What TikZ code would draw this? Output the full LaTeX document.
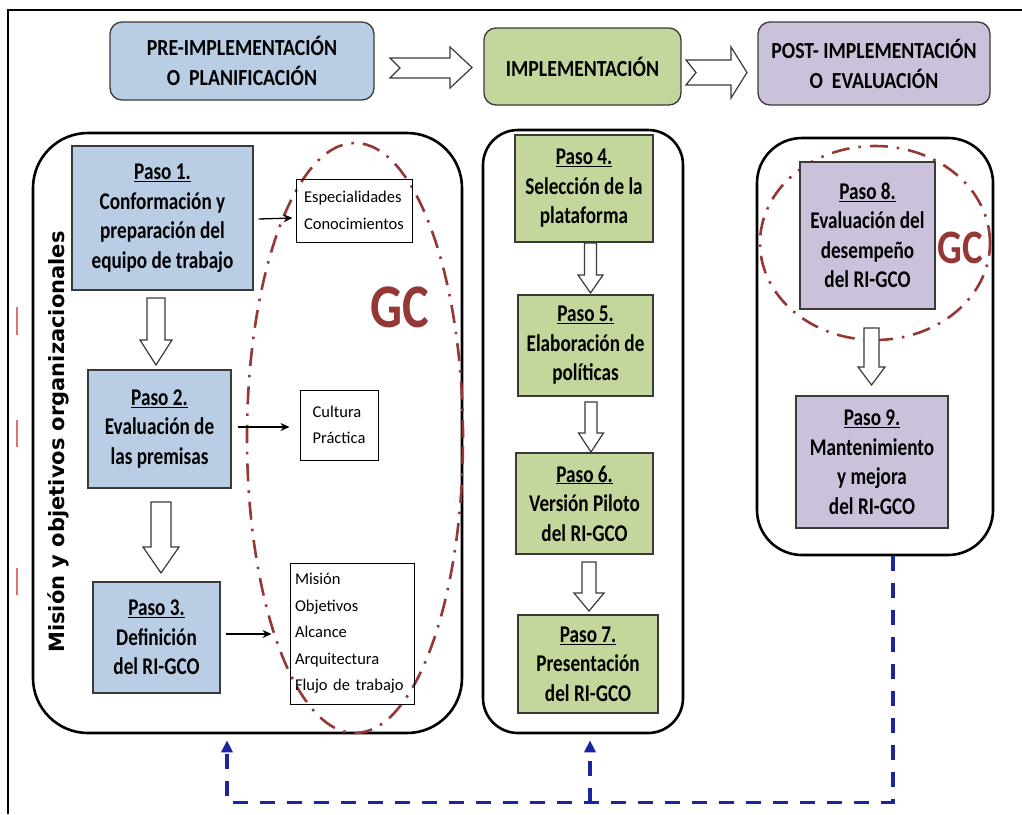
\documentclass[tikz,border=0pt]{standalone}
\usepackage{fontspec}
\setmainfont{Carlito}
\newfontfamily\vertfont{DejaVu Sans}
\newfontfamily\stepf{Carlito}[FakeStretch=0.8]
\newfontfamily\headf{Carlito}[FakeStretch=0.86]
\newfontfamily\gcf{Carlito}[FakeStretch=0.81]
\usetikzlibrary{arrows.meta,calc,shapes.geometric}
\definecolor{bluef}{HTML}{B9CDE5}
\definecolor{greenf}{HTML}{C3D69B}
\definecolor{purf}{HTML}{CCC1DA}
\definecolor{gcred}{HTML}{953735}
\definecolor{dblue}{RGB}{30,35,160}
\definecolor{edge}{HTML}{3A3A3A}
\definecolor{tickred}{HTML}{E07070}
\newcommand{\blkdn}[6]{% x, ytop, yhead, ybot, shaft half, head half
  \draw[blockarrow] ({#1-#5},#2) -- ({#1+#5},#2) -- ({#1+#5},#3) -- ({#1+#6},#3)
    -- (#1,#4) -- ({#1-#6},#3) -- ({#1-#5},#3) -- cycle;}
\begin{document}
\begin{tikzpicture}[x=1pt,y=-1pt,
  header/.style={draw=edge, line width=1.3pt, rounded corners=12pt, align=center,
    font=\headf\fontsize{23}{30}\selectfont\bfseries, inner sep=0pt},
  container/.style={draw=black, line width=2.6pt, inner sep=0pt},
  stepbox/.style={draw=edge, line width=1.3pt, align=center, inner sep=0pt,
    font=\stepf\fontsize{24}{29.5}\selectfont\bfseries},
  notebox/.style={draw=black, line width=1pt, align=left, inner sep=0pt,
    font=\fontsize{16.5}{26.5}\selectfont},
  blockarrow/.style={draw=edge, fill=white, line width=1.2pt, line join=miter},
  thinarrow/.style={draw=black, line width=1.3pt, -{Stealth[length=9pt,width=8pt]}},
  gcring/.style={draw=gcred, line width=2.6pt, dash pattern=on 18pt off 9pt on 2.5pt off 9pt,
    ellipse, inner sep=0pt},
  feedback/.style={draw=dblue, line width=3.5pt, dash pattern=on 15pt off 12pt,
    -{Triangle[length=12pt,width=11pt]}},
  gclabel/.style={text=gcred, inner sep=0pt},
]
\useasboundingbox (0,0) rectangle (1022,814);
\fill[white] (0,0) rectangle (1022,814);
% outer frame
\draw[line width=1.5pt] (8,814) -- (8,10) -- (1022,10);
% red ticks
\draw[tickred, line width=1.5pt] (17,307) -- (17,335);
\draw[tickred, line width=1.5pt] (17,420) -- (17,447);
\draw[tickred, line width=1.5pt] (17,568) -- (17,595);

% headers
\node[header, fill=bluef, minimum width=264pt, minimum height=78pt] (pre) at (242,61)
  {PRE-IMPLEMENTACIÓN\\O~~PLANIFICACIÓN};
\node[header, fill=greenf, minimum width=197pt, minimum height=77pt] (imp) at (582.5,66.5)
  {IMPLEMENTACIÓN};
\node[header, fill=purf, minimum width=232pt, minimum height=83pt] (post) at (874,63.5)
  {POST-~IMPLEMENTACIÓN\\O~~EVALUACIÓN};
% notched arrows between headers
\draw[blockarrow] (390,58) -- (450,58) -- (450,47) -- (472,67.5) -- (450,88) -- (450,78)
  -- (390,78) -- (400,68) -- cycle;
\draw[blockarrow] (686,60) -- (731,60) -- (731,47) -- (747,72.5) -- (731,98) -- (731,85)
  -- (686,85) -- (696,72.5) -- cycle;

% containers
\node[container, rounded corners=55pt, minimum width=429pt, minimum height=600pt] (lb) at (247.5,433) {};
\node[container, rounded corners=35pt, minimum width=200pt, minimum height=603pt] (mb) at (583,431.5) {};
\node[container, rounded corners=45pt, minimum width=236pt, minimum height=417pt] (rb) at (875,346.5) {};

% vertical label
\node[rotate=90, font=\vertfont\bfseries\fontsize{21}{24}\selectfont, inner sep=0pt] (vlab) at (58,442)
  {Misión y objetivos organizacionales};

% GC rings
\node[gcring, minimum width=216pt, minimum height=590pt] (gcL) at (355,438) {};
\node[gcring, minimum width=230pt, minimum height=194pt] (gcR) at (875,243) {};

% step boxes
\node[stepbox, fill=bluef, minimum width=181pt, minimum height=144pt] (p1) at (162.5,218)
  {\underline{Paso 1.}\\Conformación y\\preparación del\\equipo de trabajo};
\node[stepbox, fill=bluef, minimum width=143pt, minimum height=118pt] (p2) at (159.5,429)
  {\underline{Paso 2.}\\Evaluación de\\las premisas};
\node[stepbox, fill=bluef, minimum width=127pt, minimum height=111pt] (p3) at (156.5,637.5)
  {\underline{Paso 3.}\\Definición\\del RI-GCO};
\node[stepbox, fill=greenf, minimum width=138pt, minimum height=107pt] (p4) at (584,188.5)
  {\underline{Paso 4.}\\Selección de la\\plataforma};
\node[stepbox, fill=greenf, minimum width=135pt, minimum height=101pt] (p5) at (585.5,345.5)
  {\underline{Paso 5.}\\Elaboración de\\políticas};
\node[stepbox, fill=greenf, minimum width=137pt, minimum height=101pt] (p6) at (584.5,503.5)
  {\underline{Paso 6.}\\Versión Piloto\\del RI-GCO};
\node[stepbox, fill=greenf, minimum width=140pt, minimum height=98pt] (p7) at (588,664)
  {\underline{Paso 7.}\\Presentación\\del RI-GCO};
\node[stepbox, fill=purf, minimum width=135pt, minimum height=147pt] (p8) at (867.5,235.5)
  {\underline{Paso 8.}\\Evaluación del\\desempeño\\del RI-GCO};
\node[stepbox, fill=purf, minimum width=152pt, minimum height=132pt] (p9) at (872,462)
  {\underline{Paso 9.}\\Mantenimiento\\y mejora\\del RI-GCO};

% GC labels
\node[gclabel, font=\gcf\fontsize{62}{62}\selectfont\bfseries] (gcl) at (400,307) {GC};
\node[gclabel, font=\gcf\fontsize{48}{48}\selectfont\bfseries] (gcr) at (960,248) {GC};

% note boxes
\node[notebox, minimum width=116pt, minimum height=63pt] (esp) at (354,210.5)
  {Especialidades\\Conocimientos};
\node[notebox, minimum width=78pt, minimum height=70pt] (cul) at (339,425)
  {Cultura\\Práctica};
\node[notebox, minimum width=124pt, minimum height=141pt, text width=114pt] (mis) at (352,633.5)
  {Misión\\Objetivos\\Alcance\\Arquitectura\\Flujo de trabajo};

% thin arrows
\draw[thinarrow] ([xshift=5pt,yshift=-1pt]p1.east) -- ([xshift=-3pt]p1.east -| esp.west);
\draw[thinarrow] ([xshift=6pt,yshift=2pt]p2.east) -- ([xshift=-10pt,yshift=2pt]p2.east -| cul.west);
\draw[thinarrow] ([xshift=5pt,yshift=3.5pt]p3.east) -- ([xshift=-18pt,yshift=3.5pt]p3.east -| mis.west);

% block down arrows
\blkdn{156}{298}{340}{365}{9}{16}
\blkdn{161}{502}{547}{573}{10}{18}
\blkdn{590.5}{243}{275}{293}{6}{12.5}
\blkdn{591}{402}{433}{452}{6}{12.5}
\blkdn{589}{562}{593}{611}{7}{15}
\blkdn{871.5}{328}{367}{385}{7.5}{13.5}

% feedback dashed connectors
\coordinate (fbmid) at (590,803);
\draw[feedback] ([xshift=18pt]rb.south) -- ++(0,246) -| ([xshift=-20.5pt,yshift=-6pt]lb.south);
\draw[feedback] (fbmid) -- ([xshift=7pt,yshift=-6pt]mb.south);
\end{tikzpicture}
\end{document}
